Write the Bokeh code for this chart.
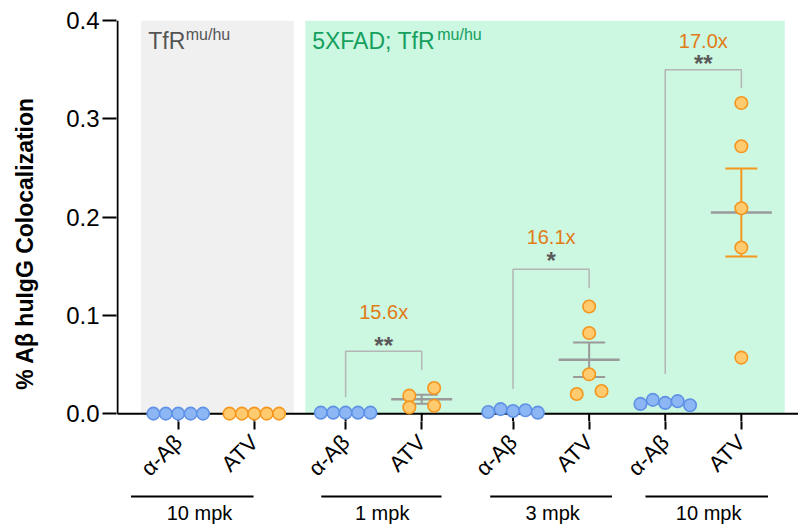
import math
from bokeh.plotting import figure
from bokeh.layouts import column
from bokeh.models import (Range1d, FixedTicker, Label, CustomJSTickFormatter,
                          NumeralTickFormatter)
from bokeh.embed import file_html
from bokeh.resources import INLINE

# ---------------- data ----------------
categories = ["α-Aβ", "ATV", "α-Aβ", "ATV", "α-Aβ", "ATV", "α-Aβ", "ATV"]
cat_pos = [0, 1, 2.2, 3.2, 4.4, 5.4, 6.4, 7.4]

dose_labels = ["10 mpk", "1 mpk", "3 mpk", "10 mpk"]
dose_label_x = [0.28, 2.68, 4.92, 6.97]
dose_line_x0 = [-0.62, 1.88, 4.10, 6.14]
dose_line_x1 = [0.99, 3.46, 5.70, 7.75]

abeta_tfr_10mpk = [0.0, 0.0, 0.0, 0.0, 0.0]
atv_tfr_10mpk = [0.0, 0.0, 0.0, 0.0, 0.0]
abeta_1mpk = [0.001, 0.001, 0.001, 0.001, 0.001]
atv_1mpk = [0.0183, 0.0064, 0.0261, 0.0081]
abeta_3mpk = [0.0017, 0.0046, 0.0027, 0.0034, 0.0010]
atv_3mpk = [0.109, 0.082, 0.040, 0.020, 0.023]
abeta_10mpk = [0.0099, 0.0140, 0.0109, 0.0127, 0.0086]
atv_10mpk = [0.316, 0.272, 0.209, 0.169, 0.057]

groups = [abeta_tfr_10mpk, atv_tfr_10mpk, abeta_1mpk, atv_1mpk,
          abeta_3mpk, atv_3mpk, abeta_10mpk, atv_10mpk]
is_atv = [False, True, False, True, False, True, False, True]

# comparisons (alpha-Abeta vs ATV within each 5XFAD dose)
cmp_left = [2.2, 4.4, 6.4]
cmp_right = [3.2, 5.4, 7.4]
fold_labels = ["15.6x", "16.1x", "17.0x"]
sig_labels = ["**", "*", "**"]
bracket_top = [0.0634, 0.1468, 0.350]
bracket_left_bottom = [0.0166, 0.0251, 0.0404]
bracket_right_bottom = [0.0445, 0.1275, 0.331]
fold_y = [0.1033, 0.1796, 0.3796]
sig_y = [0.0698, 0.1562, 0.3562]

region_x0 = [-0.49, 1.67]
region_x1 = [1.52, 7.97]
y_ticks = [0.0, 0.1, 0.2, 0.3, 0.4]

# ---------------- layout ----------------
W = 798
H1, H2 = 494, 30
ML, MT = 116, 20
FW, FH = W - ML, 401
PXU = 76.1                      # px per category unit
X0 = -(177.7 - ML) / PXU
X1 = X0 + FW / PXU
Y0, Y1 = -0.008, 0.4
px_x = FW / (X1 - X0)
px_y = FH / (Y1 - Y0)
XL = X0 + 1.0 / px_x            # y-axis line just inside the frame

FONT = "Liberation Sans"
BLUE_FILL, BLUE_LINE = "#8db6f4", "#5f92e6"
ORG_FILL, ORG_LINE = "#ffcb6e", "#f5961e"
GRAY = "#9a9a9a"

xr = Range1d(X0, X1)
p = figure(width=W, height=H1, output_backend="svg", toolbar_location=None,
           x_range=xr, y_range=Range1d(Y0, Y1),
           min_border_left=ML, min_border_right=0, min_border_top=MT,
           min_border_bottom=H1 - MT - FH)
p.outline_line_color = None
p.grid.visible = False
p.background_fill_color = "white"
p.border_fill_color = "white"

# backgrounds
p.quad(left=region_x0, right=region_x1, bottom=[0, 0], top=[Y1, Y1],
       fill_color=["#f0f0f0", "#ccf7e1"], line_color=None)

# axis lines and inner part of x ticks
p.segment(x0=[XL], y0=[0], x1=[X1], y1=[0], line_color="black", line_width=2)
p.segment(x0=[XL], y0=[0], x1=[XL], y1=[Y1], line_color="black", line_width=2)
p.segment(x0=cat_pos, y0=[0] * len(cat_pos), x1=cat_pos, y1=[Y0] * len(cat_pos),
          line_color="black", line_width=2)

# brackets
bx, by = [], []
for xl, xrr, t, lb, rb in zip(cmp_left, cmp_right, bracket_top,
                              bracket_left_bottom, bracket_right_bottom):
    bx.append([xl, xl, xrr, xrr])
    by.append([lb, t, t, rb])
p.multi_line(bx, by, line_color="#b5b5b5", line_width=1.5)


def swarm(vals, tol_px=10.5):
    order = sorted(range(len(vals)), key=lambda i: vals[i])
    rows = []
    for i in order:
        if rows and (vals[i] - vals[rows[-1][0]]) * px_y < tol_px:
            rows[-1].append(i)
        else:
            rows.append([i])
    slots = [0] * len(vals)
    for r in rows:
        r = sorted(r)
        n = len(r)
        if n % 2:
            offs = [k - (n - 1) // 2 for k in range(n)]
        else:
            offs = [k for k in range(-(n // 2), n // 2 + 1) if k != 0]
        for i, o in zip(r, offs):
            slots[i] = o
    return slots


slot_w = 12.4 / px_x
half_mean = 30.5 / px_x
half_cap = 16.0 / px_x

for k, (vals, pos, atv) in enumerate(zip(groups, cat_pos, is_atv)):
    n = len(vals)
    m = sum(vals) / n
    sd = math.sqrt(sum((v - m) ** 2 for v in vals) / (n - 1))
    sem = sd / math.sqrt(n)
    sem_col = ORG_LINE if (atv and k == 7) else GRAY
    if sem > 0:
        p.segment(x0=[pos], y0=[m - sem], x1=[pos], y1=[m + sem], line_color=sem_col, line_width=2)
        p.segment(x0=[pos - half_cap] * 2, y0=[m - sem, m + sem],
                  x1=[pos + half_cap] * 2, y1=[m - sem, m + sem],
                  line_color=sem_col, line_width=2)
    p.segment(x0=[pos - half_mean], y0=[m], x1=[pos + half_mean], y1=[m],
              line_color=GRAY, line_width=2.5)

for vals, pos, atv in zip(groups, cat_pos, is_atv):
    slots = swarm(vals)
    xs = [pos + s * slot_w for s in slots]
    p.scatter(xs, vals, size=12.5, marker="circle",
              fill_color=ORG_FILL if atv else BLUE_FILL,
              line_color=ORG_LINE if atv else BLUE_LINE, line_width=1.6)

# annotations: fold change and significance
for xl, xrr, f, s, fy, sy in zip(cmp_left, cmp_right, fold_labels, sig_labels, fold_y, sig_y):
    xc = (xl + xrr) / 2
    p.add_layout(Label(x=xc, y=fy, text=f, text_align="center", text_baseline="alphabetic",
                       text_font=FONT, text_font_size="20px", text_color="#e07b16"))
    p.add_layout(Label(x=xc, y=sy, text=s, text_align="center", text_baseline="alphabetic",
                       text_font=FONT, text_font_size="24px", text_font_style="bold",
                       text_color="#5a5a5a"))

# region titles with superscript
titles = [("TfR", "mu/hu", "#555555", -0.394, 37.5),
          ("5XFAD; TfR", "mu/hu", "#15a05e", 1.761, 125)]
for main, sup, col, x, off in titles:
    p.add_layout(Label(x=x, y=0.3796, text=main, text_font=FONT, text_font_size="23px",
                       text_color=col, text_baseline="alphabetic"))
    p.add_layout(Label(x=x, y=0.3858, x_offset=off, text=sup, text_font=FONT,
                       text_font_size="16px", text_color=col, text_baseline="alphabetic"))

# axes styling
xa = p.xaxis[0]
xa.ticker = FixedTicker(ticks=cat_pos)
xa.formatter = CustomJSTickFormatter(args=dict(pos=cat_pos, labs=categories), code="""
const i = pos.findIndex(v => Math.abs(v - tick) < 1e-6);
return i >= 0 ? labs[i] : '';
""")
xa.axis_line_color = None
xa.major_tick_in = 0
xa.major_tick_out = 8
xa.major_tick_line_width = 2
xa.minor_tick_line_color = None
xa.major_label_orientation = math.pi / 4
xa.major_label_standoff = 9
xa.major_label_text_font = FONT
xa.major_label_text_font_size = "22px"
xa.major_label_text_color = "black"

ya = p.yaxis[0]
ya.ticker = FixedTicker(ticks=y_ticks)
ya.formatter = NumeralTickFormatter(format="0.0")
ya.axis_line_color = None
ya.major_tick_in = 0
ya.major_tick_out = 14
ya.major_tick_line_width = 2
ya.minor_tick_line_color = None
ya.major_label_standoff = 3
ya.major_label_text_font = FONT
ya.major_label_text_font_size = "24px"
ya.major_label_text_color = "black"
ya.axis_label = "% Aβ huIgG Colocalization" + "\u00a0" * 7
ya.axis_label_text_font = FONT
ya.axis_label_text_font_size = "23px"
ya.axis_label_text_font_style = "bold"
ya.axis_label_text_color = "black"
ya.axis_label_standoff = 25

# ---------------- dose-group strip below the axis ----------------
p2 = figure(width=W, height=H2, output_backend="svg", toolbar_location=None,
            x_range=xr, y_range=Range1d(0, H2), x_axis_type=None, y_axis_type=None,
            min_border_left=ML, min_border_right=0, min_border_top=0, min_border_bottom=0)
p2.outline_line_color = None
p2.grid.visible = False
p2.background_fill_color = "white"
p2.border_fill_color = "white"
p2.segment(x0=dose_line_x0, y0=[28] * 4, x1=dose_line_x1, y1=[28] * 4,
           line_color="black", line_width=2)
p2.text(x=dose_label_x, y=[12] * 4, text=dose_labels, text_align="center",
        text_baseline="alphabetic", text_font={"value": FONT}, text_font_size="20px",
        text_color="black")

open("out.html", "w").write(file_html(column(p, p2, spacing=0), INLINE))
